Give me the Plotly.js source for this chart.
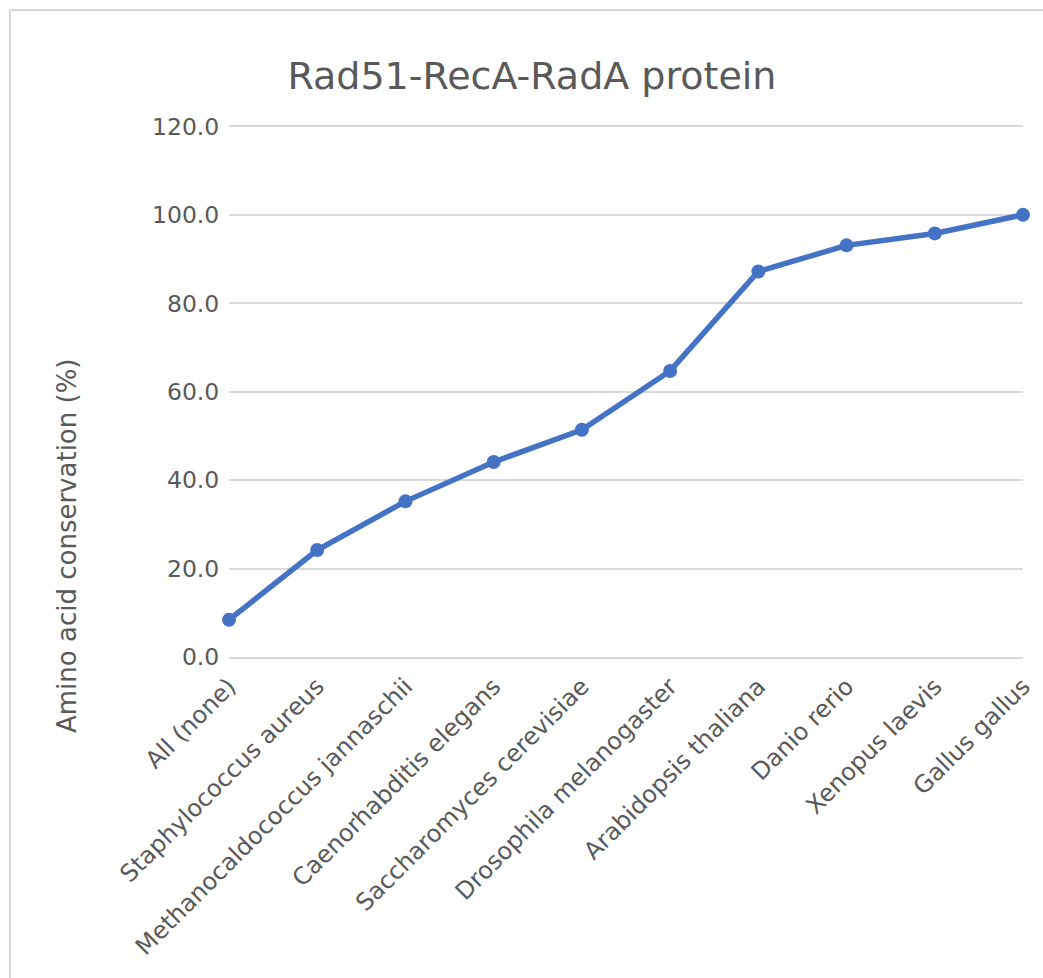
<!DOCTYPE html>
<html>
<head>
<meta charset="utf-8">
<script src="https://cdn.plot.ly/plotly-3.0.1.min.js"></script>
<style>
  html, body { margin: 0; padding: 0; background: #ffffff; overflow: hidden; }
  #chart { width: 1043px; height: 978px; }
</style>
</head>
<body>
<div id="chart"></div>
<script>
const categories = [
  "All (none)",
  "Staphylococcus aureus",
  "Methanocaldococcus jannaschii",
  "Caenorhabditis elegans",
  "Saccharomyces cerevisiae",
  "Drosophila melanogaster",
  "Arabidopsis thaliana",
  "Danio rerio",
  "Xenopus laevis",
  "Gallus gallus"
];
const conservation = [8.4, 24.2, 35.2, 44.1, 51.4, 64.7, 87.2, 93.1, 95.8, 100.0];
const yTicks = [0, 20, 40, 60, 80, 100, 120];

const textColor = "#595959";
const gridColor = "#d9d9d9";
const fontFamily = "DejaVu Sans, sans-serif";

const trace = {
  type: "scatter",
  mode: "lines+markers",
  x: categories,
  y: conservation,
  line: { color: "#4472C4", width: 5.5 },
  marker: { color: "#4472C4", size: 14 },
  cliponaxis: false,
  hoverinfo: "x+y",
  showlegend: false
};

// plot area: y=0 at 657px, y=120 at 126px; extend range to 121 so the 120 gridline is drawn
const pxPerUnit = 531 / 120;
const topMargin = Math.round(126 - pxPerUnit * 1);
const plotLeft = 229, plotRight = 1023, plotBottom = 657;
const plotW = plotRight - plotLeft;
const plotH = plotBottom - topMargin;

const layout = {
  width: 1043,
  height: 978,
  margin: { l: plotLeft, r: 1043 - plotRight, t: topMargin, b: 978 - plotBottom },
  paper_bgcolor: "#ffffff",
  plot_bgcolor: "#ffffff",
  font: { family: fontFamily, color: textColor, size: 20 },
  title: {
    text: "Rad51-RecA-RadA protein",
    font: { family: fontFamily, size: 38, color: textColor },
    xref: "container",
    yref: "container",
    x: 0.51,
    y: 0.923,
    xanchor: "center",
    yanchor: "middle"
  },
  xaxis: {
    type: "category",
    range: [0, 9],
    tickangle: -45,
    showgrid: false,
    showline: true,
    linecolor: gridColor,
    linewidth: 1.5,
    ticks: "outside",
    ticklen: 4,
    tickcolor: "rgba(0,0,0,0)",
    tickfont: { family: fontFamily, size: 24, color: textColor },
    zeroline: false,
    fixedrange: true
  },
  yaxis: {
    range: [0, 121],
    tickvals: yTicks,
    tickformat: ".1f",
    showgrid: true,
    gridcolor: gridColor,
    gridwidth: 1.5,
    zeroline: false,
    showline: false,
    ticks: "outside",
    ticklen: 4,
    tickcolor: "rgba(0,0,0,0)",
    tickfont: { family: fontFamily, size: 23.5, color: textColor },
    fixedrange: true
  },
  annotations: [
    {
      text: "Amino acid conservation (%)",
      xref: "paper",
      yref: "paper",
      x: (67 - plotLeft) / plotW,
      y: (plotBottom - 546) / plotH,
      xanchor: "center",
      yanchor: "middle",
      textangle: -90,
      showarrow: false,
      font: { family: fontFamily, size: 26, color: textColor }
    }
  ],
  shapes: [
    {
      type: "rect",
      xref: "paper",
      yref: "paper",
      x0: (10 - plotLeft) / plotW,
      x1: 1.2,
      y0: -1.0,
      y1: (plotBottom - 10) / plotH,
      line: { color: gridColor, width: 2 },
      fillcolor: "rgba(0,0,0,0)",
      layer: "below"
    }
  ]
};

Plotly.newPlot("chart", [trace], layout, { displayModeBar: false });
</script>
</body>
</html>
